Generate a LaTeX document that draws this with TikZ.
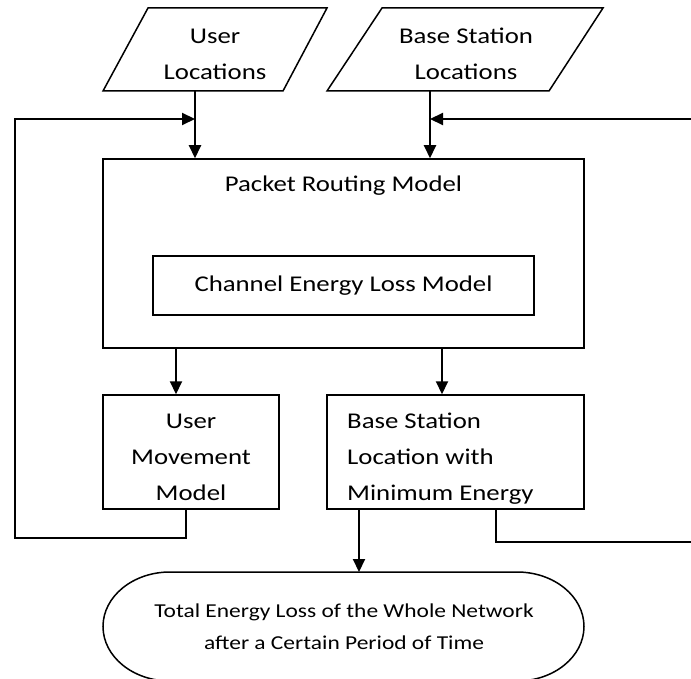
\documentclass[tikz,border=0pt]{standalone}
\usepackage{fontspec}
\setmainfont{Carlito}[FakeStretch=1.19]
\usetikzlibrary{arrows.meta}
\begin{document}
\begin{tikzpicture}[x=1pt,y=-1pt,
  outline/.style={draw,line width=1.5pt},
  box/.style={outline,inner sep=0pt},
  lbl/.style={inner sep=0pt,font=\fontsize{22.5}{36}\selectfont,align=center},
  tlbl/.style={inner sep=0pt,font=\fontsize{19.7}{32}\selectfont,align=center},
  conn/.style={line width=2.1pt},
  arr/.style={conn,-{Triangle[length=13pt,width=12pt]}}]
\clip (0,0) rectangle (691,679);
% input parallelograms
\draw[outline] (148,8) -- (327,8) -- (283,91) -- (103,91) -- cycle;
\node[lbl] (ul) at (215,54) {User\\Locations};
\draw[outline] (382,8) -- (603,8) -- (549,91) -- (327,91) -- cycle;
\node[lbl] (bsl) at (466,54) {Base Station\\Locations};
% packet routing model
\node[box,minimum width=481pt,minimum height=189pt] (prm) at (343.5,253.5) {};
\node[lbl] (prmt) at (343.5,186) {Packet Routing Model};
\node[box,lbl,minimum width=381pt,minimum height=59pt] (cel) at (343.5,285.5) {Channel Energy Loss Model};
% lower boxes
\node[box,minimum width=176pt,minimum height=114pt] (um) at (191,452) {};
\node[lbl] (umt) at (191,457) {User\\Movement\\Model};
\node[box,minimum width=257pt,minimum height=114pt] (bs) at (455.5,452) {};
\node[lbl,align=left,anchor=west] (bst) at (347,459) {Base Station\\Location with\\Minimum Energy};
% terminator
\draw[outline] (170,572) -- (517,572)
  arc[start angle=-90,end angle=90,x radius=67,y radius=54.5] -- (170,681)
  arc[start angle=90,end angle=270,x radius=67,y radius=54.5] -- cycle;
\node[tlbl] (term) at (344,627) {Total Energy Loss of the Whole Network\\after a Certain Period of Time};
% helper coordinates
\coordinate (ulb) at (195,91);
\coordinate (bslb) at (430,91);
\coordinate (ja) at (195,119);
\coordinate (jb) at (430,119);
\coordinate (xa) at (176,0);
\coordinate (xb) at (442,0);
\coordinate (fbl) at (186,0);
\coordinate (fbb) at (359,0);
\coordinate (fbr) at (496,0);
\coordinate (lc) at (15,538);
\coordinate (rc) at (705,542);
\coordinate (tt) at (359,572);
% connectors
\draw[arr] (ulb) -- (ulb |- prm.north);
\draw[arr] (bslb) -- (bslb |- prm.north);
\draw[arr] (prm.south -| xa) -- (um.north -| xa);
\draw[arr] (prm.south -| xb) -- (bs.north -| xb);
\draw[arr] (bs.south -| fbb) -- (tt);
\draw[arr] (um.south -| fbl) |- (lc) |- (ja);
\draw[arr] (bs.south -| fbr) |- (rc) |- (jb);
\end{tikzpicture}
\end{document}
